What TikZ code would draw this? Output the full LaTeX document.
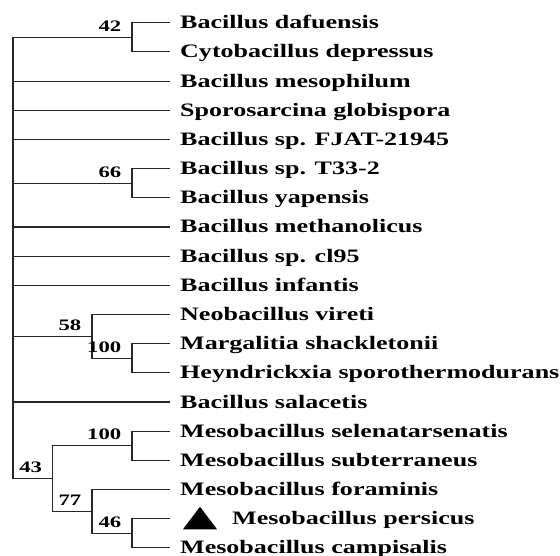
\documentclass[tikz,border=0pt]{standalone}
\usepackage{fontspec}
\newfontfamily\treefont[FakeStretch=1.37]{Liberation Serif}
\newfontfamily\bootfont[FakeStretch=1.42]{Liberation Serif}
\tikzset{
  branch/.style={line width=1.1pt, draw=black!85},
  leaflabel/.style={anchor=base west, inner sep=0pt, font=\treefont\bfseries\fontsize{19}{19}\selectfont},
  boot/.style={anchor=base east, inner sep=0pt, font=\bootfont\bfseries\fontsize{16}{16}\selectfont},
}
\begin{document}
\begin{tikzpicture}[x=1pt,y=-1pt]
\useasboundingbox (0,0) rectangle (560,556);
% leaf ends
\foreach \i in {0,...,18} {
  \coordinate (l\i) at (170, 22.7+29.18*\i);
}
% internal nodes
\coordinate (n42) at (132, 37.29);
\coordinate (n66) at (132, 183.2);
\coordinate (n100a) at (132, 358.3);
\coordinate (n58) at (92, 336.4);
\coordinate (n100b) at (132, 445.8);
\coordinate (n46) at (132, 533.4);
\coordinate (n77) at (92, 511.5);
\coordinate (n43) at (52.7, 478.65);
\coordinate (root) at (13, 257.97);
% branches
\foreach \p/\c in {root/n42, root/l2, root/l3, root/l4, root/n66, root/l7, root/l8, root/l9, root/n58, root/l13, root/n43,
  n42/l0, n42/l1, n66/l5, n66/l6, n58/l10, n58/n100a, n100a/l11, n100a/l12,
  n43/n100b, n43/n77, n100b/l14, n100b/l15, n77/l16, n77/n46, n46/l17, n46/l18} {
  \draw[branch] (\p) |- (\c);
}
% leaf labels
\foreach \i/\t in {0/Bacillus dafuensis, 1/Cytobacillus depressus, 2/Bacillus mesophilum,
  3/Sporosarcina globispora, 4/Bacillus sp. FJAT-21945, 5/Bacillus sp. T33-2,
  6/Bacillus yapensis, 7/Bacillus methanolicus, 8/Bacillus sp. cl95, 9/Bacillus infantis,
  10/Neobacillus vireti, 11/Margalitia shackletonii, 12/Heyndrickxia sporothermodurans,
  13/Bacillus salacetis, 14/Mesobacillus selenatarsenatis, 15/Mesobacillus subterraneus,
  16/Mesobacillus foraminis, 18/Mesobacillus campisalis} {
  \node[leaflabel] (t\i) at ([shift={(10,6)}]l\i) {\t};
}
\node[leaflabel] (t17) at ([shift={(62,6)}]l17) {Mesobacillus persicus};
\fill[black] ([shift={(13,10.5)}]l17) coordinate (tri1) -- ([shift={(47,10.5)}]l17) coordinate (tri2)
  -- ([shift={(30,-12)}]l17) coordinate (tri3) -- cycle;
% bootstrap values
\foreach \n/\v in {n42/42, n66/66, n58/58, n100a/100, n100b/100, n43/43, n77/77, n46/46} {
  \node[boot] (b\n) at ([shift={(-10.5,-6)}]\n) {\v};
}
\end{tikzpicture}
\end{document}
